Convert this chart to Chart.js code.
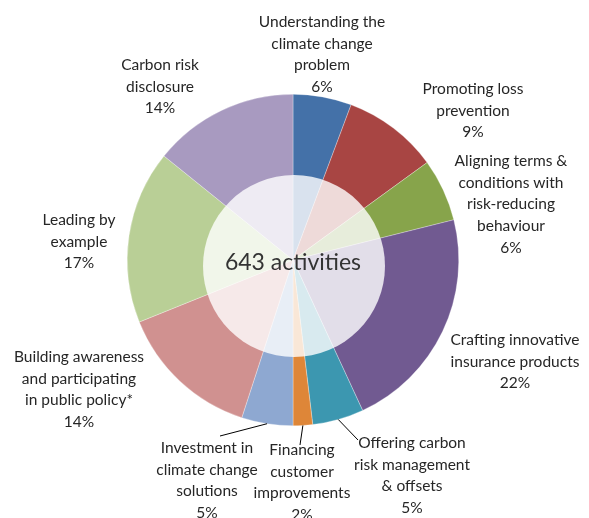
<!DOCTYPE html>
<html>
<head>
<meta charset="utf-8">
<script src="https://cdn.jsdelivr.net/npm/chart.js@4.4.1/dist/chart.umd.min.js"></script>
<style>
  html, body { margin: 0; padding: 0; background: #fff; }
  #wrap { width: 589px; height: 518px; }
</style>
</head>
<body>
<div id="wrap"><canvas id="activity-chart" width="589" height="518"></canvas></div>
<script>
// categories, clockwise from 12 o'clock
const categories = [
    ['Understanding the', 'climate change', 'problem'],
    ['Promoting loss', 'prevention'],
    ['Aligning terms &', 'conditions with', 'risk-reducing', 'behaviour'],
    ['Crafting innovative', 'insurance products'],
    ['Offering carbon', 'risk management', '& offsets'],
    ['Financing', 'customer', 'improvements'],
    ['Investment in', 'climate change', 'solutions'],
    ['Building awareness', 'and participating', 'in public policy*'],
    ['Leading by', 'example'],
    ['Carbon risk', 'disclosure']
];
// share of activities (%) as measured from the slices
const shares = [5.7, 9.3, 6.1, 22.0, 5.0, 1.9, 5.0, 13.9, 16.9, 14.2];
// percentage labels as printed
const pctLabels = ['6%', '9%', '6%', '22%', '5%', '2%', '5%', '14%', '17%', '14%'];
const totalLabel = '643 activities';

const sliceColors = [
    '#4471a8', '#a84543', '#87a44b', '#715a91', '#3c97b0',
    '#de8638', '#8ea8d1', '#d09190', '#b9cf96', '#a89ac0'
];

// where each label block is centred (x, y of first line)
const labelPos = [
    [322, 22], [473, 89], [511, 161], [515, 340], [412, 443],
    [302, 450], [207, 448], [79, 357], [79, 220], [160, 65]
];
// end points of leader lines for the small bottom slices
const leaders = { 4: [358, 440], 5: [300, 445], 6: [220, 436] };

const lineH = 21.7;
const textColor = '#262626';

const innerCircle = {
    id: 'innerCircle',
    afterDatasetsDraw(chart) {
        const arc = chart.getDatasetMeta(0).data[0];
        const ctx = chart.ctx;
        ctx.save();
        ctx.beginPath();
        ctx.arc(arc.x + 1, arc.y + 6, 91, 0, Math.PI * 2);
        ctx.fillStyle = 'rgba(255,255,255,0.8)';
        ctx.fill();
        ctx.fillStyle = '#333';
        ctx.font = '23px Lato, "Open Sans", sans-serif';
        ctx.textAlign = 'center';
        ctx.textBaseline = 'middle';
        ctx.fillText(totalLabel, arc.x, arc.y + 3);
        ctx.restore();
    }
};

const outsideLabels = {
    id: 'outsideLabels',
    afterDraw(chart) {
        const ctx = chart.ctx;
        const arcs = chart.getDatasetMeta(0).data;
        ctx.save();
        ctx.fillStyle = textColor;
        ctx.strokeStyle = '#000';
        ctx.lineWidth = 1;
        ctx.font = '15.5px Lato, "Open Sans", sans-serif';
        ctx.textAlign = 'center';
        ctx.textBaseline = 'middle';
        categories.forEach((lines, i) => {
            const [x, y] = labelPos[i];
            const all = lines.concat([pctLabels[i]]);
            all.forEach((t, k) => ctx.fillText(t, x, y + k * lineH));
            if (leaders[i]) {
                const a = arcs[i];
                const mid = (a.startAngle + a.endAngle) / 2;
                ctx.beginPath();
                ctx.moveTo(a.x + Math.cos(mid) * a.outerRadius, a.y + Math.sin(mid) * a.outerRadius);
                ctx.lineTo(leaders[i][0], leaders[i][1]);
                ctx.stroke();
            }
        });
        ctx.restore();
    }
};

new Chart(document.getElementById('activity-chart'), {
    type: 'pie',
    data: {
        labels: categories.map(l => l.join(' ')),
        datasets: [{
            data: shares,
            backgroundColor: sliceColors,
            borderColor: 'rgba(255,255,255,0.6)',
            borderWidth: 0.5
        }]
    },
    options: {
        responsive: false,
        animation: false,
        layout: { padding: { left: 127, right: 130, top: 94, bottom: 92 } },
        plugins: {
            legend: { display: false },
            tooltip: { enabled: false }
        }
    },
    plugins: [innerCircle, outsideLabels]
});
</script>
</body>
</html>
